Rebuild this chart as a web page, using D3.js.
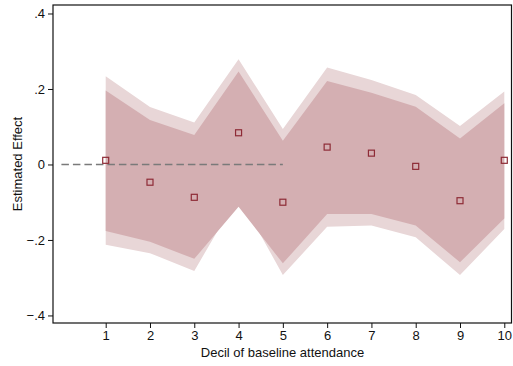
<!DOCTYPE html>
<html>
<head>
<meta charset="utf-8">
<script src="https://cdn.jsdelivr.net/npm/d3@7"></script>
<style>
  body { margin: 0; background: #fff; }
  svg { display: block; font-family: "Liberation Sans", Arial, Helvetica, sans-serif; }
</style>
</head>
<body>
<div id="chart"></div>
<script>
// deciles and estimates
var deciles = [1, 2, 3, 4, 5, 6, 7, 8, 9, 10];
var estimates = [0.011, -0.047, -0.087, 0.084, -0.100, 0.046, 0.030, -0.005, -0.096, 0.011];
var ci90Low = [-0.176, -0.205, -0.250, -0.112, -0.262, -0.131, -0.131, -0.162, -0.259, -0.143];
var ci90High = [0.196, 0.118, 0.078, 0.246, 0.063, 0.221, 0.190, 0.153, 0.069, 0.162];
var ci95Low = [-0.213, -0.235, -0.282, -0.081, -0.293, -0.165, -0.162, -0.193, -0.293, -0.171];
var ci95High = [0.234, 0.152, 0.111, 0.279, 0.094, 0.257, 0.224, 0.184, 0.102, 0.193];
var yTicks = [-0.4, -0.2, 0, 0.2, 0.4];
var refLine = [0, 5];

var width = 513, height = 366;
var margin = {top: 5, right: 1, bottom: 43, left: 53};

var svg = d3.select('#chart')
    .append('svg')
    .attr('width', width)
    .attr('height', height);

var x = d3.scaleLinear()
    .domain([-0.19, 10.174])
    .range([margin.left, width - margin.right]);

var y = d3.scaleLinear()
    .domain([-0.42, 0.4225])
    .range([height - margin.bottom, margin.top]);

var rows = deciles.map(function(d, i) {
  return {x: d, est: estimates[i], lo90: ci90Low[i], hi90: ci90High[i], lo95: ci95Low[i], hi95: ci95High[i]};
});

// outer band (95%)
svg.append('path')
    .datum(rows)
    .attr('fill', '#e8d6d7')
    .attr('d', d3.area()
      .x(function(d) { return x(d.x); })
      .y0(function(d) { return y(d.lo95); })
      .y1(function(d) { return y(d.hi95); }));

// inner band (90%)
svg.append('path')
    .datum(rows)
    .attr('fill', '#d4afb2')
    .attr('d', d3.area()
      .x(function(d) { return x(d.x); })
      .y0(function(d) { return y(d.lo90); })
      .y1(function(d) { return y(d.hi90); }));

// dashed zero line
svg.append('line')
    .attr('x1', x(refLine[0]))
    .attr('x2', x(refLine[1]))
    .attr('y1', y(0))
    .attr('y2', y(0))
    .attr('stroke', '#7a7a7a')
    .attr('stroke-width', 1.5)
    .attr('stroke-dasharray', '7.5,4');

// markers
svg.selectAll('rect.pt')
    .data(rows)
    .enter()
    .append('rect')
    .attr('class', 'pt')
    .attr('x', function(d) { return x(d.x) - 3; })
    .attr('y', function(d) { return y(d.est) - 3; })
    .attr('width', 6)
    .attr('height', 6)
    .attr('fill', 'none')
    .attr('stroke', '#8e2b36')
    .attr('stroke-width', 1.2);

// frame
svg.append('rect')
    .attr('x', margin.left)
    .attr('y', margin.top)
    .attr('width', width - margin.left - margin.right - 0.5)
    .attr('height', height - margin.top - margin.bottom)
    .attr('fill', 'none')
    .attr('stroke', '#111')
    .attr('stroke-width', 1.2);

// axes
var xAxis = svg.append('g')
    .attr('transform', 'translate(0,' + (height - margin.bottom) + ')')
    .call(d3.axisBottom(x).tickValues(deciles).tickSize(5).tickPadding(3));

var yAxis = svg.append('g')
    .attr('transform', 'translate(' + margin.left + ',0)')
    .call(d3.axisLeft(y).tickValues(yTicks).tickSize(5).tickPadding(3)
      .tickFormat(function(d) {
        if (d === 0) return '0';
        return d3.format('.1f')(d).replace('0.', '.').replace('-', '\u2013');
      }));

[xAxis, yAxis].forEach(function(g) {
  g.select('.domain').remove();
  g.selectAll('.tick line').attr('stroke', '#111');
  g.selectAll('.tick text').attr('fill', '#111').style('font-size', '13px');
});

// titles
svg.append('text')
    .attr('x', (margin.left + width - margin.right) / 2)
    .attr('y', 357)
    .attr('text-anchor', 'middle')
    .style('font-size', '13px')
    .attr('fill', '#111')
    .text('Decil of baseline attendance');

svg.append('text')
    .attr('transform', 'translate(22,' + ((margin.top + height - margin.bottom) / 2) + ') rotate(-90)')
    .attr('text-anchor', 'middle')
    .style('font-size', '13px')
    .attr('fill', '#111')
    .text('Estimated Effect');
</script>
</body>
</html>
